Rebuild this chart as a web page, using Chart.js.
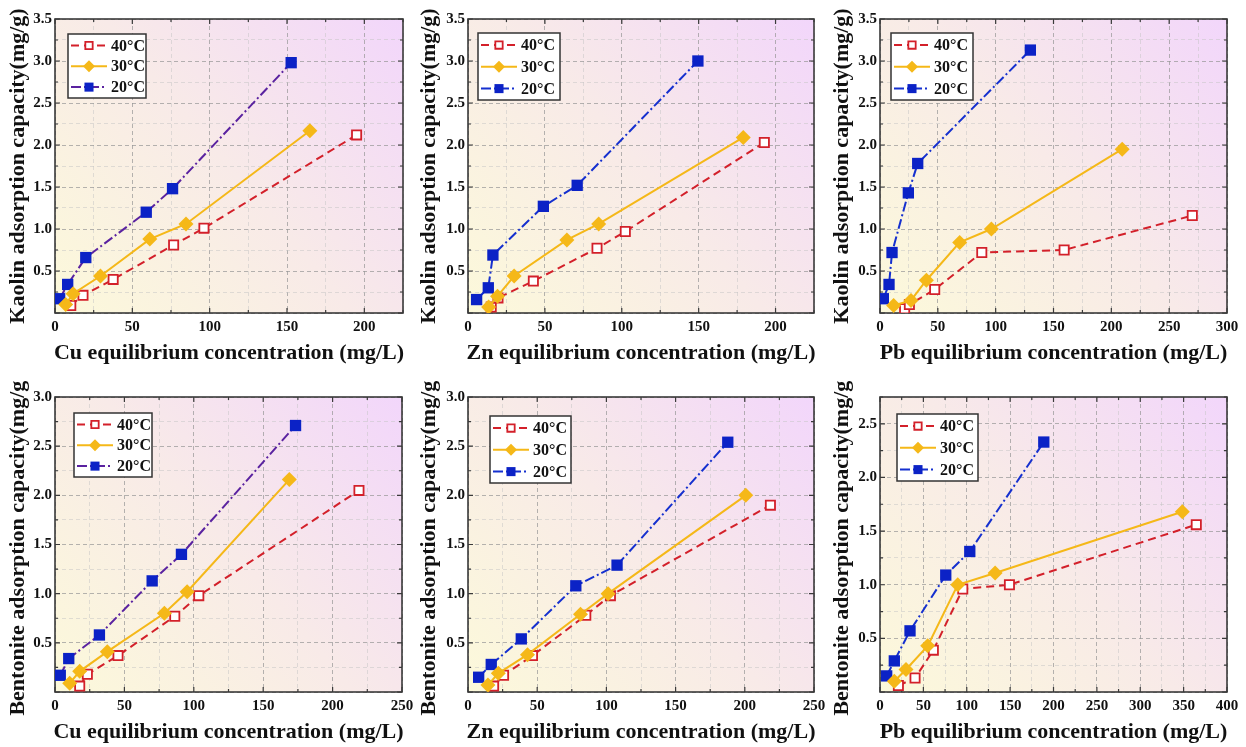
<!DOCTYPE html>
<html>
<head>
<meta charset="utf-8">
<script src="https://cdn.jsdelivr.net/npm/chart.js@4.4.1/dist/chart.umd.min.js"></script>
<style>
  body { margin: 0; background: #fff; width: 1246px; height: 747px; position: relative; overflow: hidden; }
  canvas { position: absolute; }
</style>
</head>
<body>
<canvas id="c1"></canvas>
<canvas id="c2"></canvas>
<canvas id="c3"></canvas>
<canvas id="c4"></canvas>
<canvas id="c5"></canvas>
<canvas id="c6"></canvas>
<script>
// series labels
const seriesLabels = ['40°C', '30°C', '20°C'];

// Kaolin - Cu  [equilibrium concentration, adsorption capacity]
const cuKaolin40 = [[10.2, 0.09], [18.1, 0.21], [37.6, 0.40], [76.7, 0.81], [96.3, 1.01], [195, 2.12]];
const cuKaolin30 = [[6.9, 0.10], [11.7, 0.23], [29.4, 0.44], [61.3, 0.88], [84.7, 1.06], [164.8, 2.17]];
const cuKaolin20 = [[3.0, 0.17], [8.2, 0.34], [19.9, 0.66], [59, 1.20], [76, 1.48], [152.7, 2.98]];
// Kaolin - Zn
const znKaolin40 = [[15.1, 0.07], [19.5, 0.18], [42.5, 0.38], [83.9, 0.77], [102.3, 0.97], [192.7, 2.03]];
const znKaolin30 = [[13.4, 0.07], [19.2, 0.20], [30, 0.44], [64.3, 0.87], [85, 1.06], [179, 2.09]];
const znKaolin20 = [[5.6, 0.16], [13.2, 0.30], [16.2, 0.69], [49, 1.27], [71, 1.52], [149.5, 3.0]];
// Kaolin - Pb
const pbKaolin40 = [[21.3, 0.05], [25.4, 0.10], [47.3, 0.28], [88, 0.72], [159.2, 0.75], [270, 1.16]];
const pbKaolin30 = [[11.8, 0.09], [26.8, 0.15], [40.1, 0.39], [68.9, 0.84], [96.3, 1.0], [209.4, 1.95]];
const pbKaolin20 = [[2.9, 0.17], [7.8, 0.34], [10.4, 0.72], [24.5, 1.43], [32.6, 1.78], [130, 3.13]];
// Bentonite - Cu
const cuBent40 = [[17.8, 0.06], [23.3, 0.18], [45.4, 0.37], [86.3, 0.77], [103.6, 0.98], [219, 2.05]];
const cuBent30 = [[10.6, 0.09], [17.8, 0.21], [37.7, 0.41], [78.8, 0.80], [95.2, 1.02], [168.8, 2.16]];
const cuBent20 = [[3.8, 0.17], [9.9, 0.34], [32, 0.58], [70, 1.13], [91.1, 1.40], [173.3, 2.71]];
// Bentonite - Zn
const znBent40 = [[18.5, 0.06], [25.7, 0.17], [46.6, 0.37], [85.1, 0.78], [102.9, 0.98], [218.5, 1.90]];
const znBent30 = [[14.4, 0.07], [21.9, 0.19], [43, 0.38], [81.3, 0.79], [101.2, 1.0], [200.7, 2.0]];
const znBent20 = [[7.7, 0.15], [16.8, 0.28], [38.5, 0.54], [77.9, 1.08], [107.7, 1.29], [187.7, 2.54]];
// Bentonite - Pb
const pbBent40 = [[21.2, 0.06], [40.4, 0.13], [61.5, 0.39], [95.4, 0.96], [149.2, 1.0], [364.6, 1.56]];
const pbBent30 = [[16.5, 0.10], [30, 0.21], [55, 0.43], [89.6, 1.0], [132.7, 1.11], [348.5, 1.68]];
const pbBent20 = [[7.7, 0.15], [16.5, 0.29], [34.6, 0.57], [75.8, 1.09], [103.5, 1.31], [188.8, 2.33]];

// axis ranges
const xMaxes = [225, 225, 300, 250, 250, 400];
const yMaxes = [3.5, 3.5, 3.5, 3.0, 3.0, 2.75];
const xTitles = ['Cu equilibrium concentration (mg/L)', 'Zn equilibrium concentration (mg/L)', 'Pb equilibrium concentration (mg/L)'];
const yTitles = ['Kaolin adsorption capacity(mg/g)', 'Bentonite adsorption capacity(mg/g)'];

const serif = "'Liberation Serif', 'Times New Roman', serif";
const red = '#d3202a';
const gold = '#f5b818';
const blue = '#0b22c6';

function pairs(arr) {
    return arr.map(p => ({ x: p[0], y: p[1] }));
}

function isMajor(v, step) {
    const r = v / step;
    return Math.abs(r - Math.round(r)) < 1e-6;
}

function makeSets(d40, d30, d20, line20) {
    return [
        {
            label: seriesLabels[0], data: pairs(d40), showLine: true,
            borderColor: red, borderWidth: 2, borderDash: [8, 5],
            pointStyle: 'rect', pointRadius: 6.5, pointBackgroundColor: '#ffffff',
            pointBorderColor: red, pointBorderWidth: 1.8, order: 2
        },
        {
            label: seriesLabels[1], data: pairs(d30), showLine: true,
            borderColor: gold, borderWidth: 2, borderDash: [],
            pointStyle: 'rectRot', pointRadius: 7.5, pointBackgroundColor: gold,
            pointBorderColor: gold, pointBorderWidth: 0, order: 0
        },
        {
            label: seriesLabels[2], data: pairs(d20), showLine: true,
            borderColor: line20, borderWidth: 2, borderDash: [10, 3, 2, 3],
            pointStyle: 'rect', pointRadius: 8, pointBackgroundColor: blue,
            pointBorderColor: blue, pointBorderWidth: 0, order: 1
        }
    ];
}

// plot background gradient
const bgPlugin = {
    id: 'plotBg',
    beforeDraw(chart) {
        const { ctx, chartArea: a } = chart;
        const g = ctx.createLinearGradient(a.left, a.bottom, a.right, a.top);
        g.addColorStop(0, '#fcf9da');
        g.addColorStop(0.5, '#f8eae8');
        g.addColorStop(1, '#f2d6fb');
        ctx.save();
        ctx.fillStyle = g;
        ctx.fillRect(a.left, a.top, a.width, a.height);
        ctx.restore();
    }
};

// box around the plot with inward ticks
const framePlugin = {
    id: 'frameTicks',
    beforeDatasetsDraw(chart) {
        const { ctx, chartArea: a, scales } = chart;
        ctx.save();
        ctx.strokeStyle = '#3a3a3a';
        ctx.lineWidth = 1.2;
        scales.y.ticks.forEach(t => {
            const py = scales.y.getPixelForValue(t.value);
            const len = isMajor(t.value, 0.5) ? 5 : 3;
            ctx.beginPath();
            ctx.moveTo(a.left, py); ctx.lineTo(a.left + len, py);
            ctx.moveTo(a.right, py); ctx.lineTo(a.right - len, py);
            ctx.stroke();
        });
        scales.x.ticks.forEach(t => {
            const px = scales.x.getPixelForValue(t.value);
            const len = isMajor(t.value, 50) ? 5 : 3;
            ctx.beginPath();
            ctx.moveTo(px, a.bottom); ctx.lineTo(px, a.bottom - len);
            ctx.moveTo(px, a.top); ctx.lineTo(px, a.top + len);
            ctx.stroke();
        });
        ctx.lineWidth = 1.6;
        ctx.strokeRect(a.left, a.top, a.width, a.height);
        ctx.restore();
    }
};

function drawMarker(ctx, ds, x, y, k) {
    const r = ds.pointRadius * k;
    ctx.beginPath();
    if (ds.pointStyle === 'rectRot') {
        ctx.moveTo(x, y - r); ctx.lineTo(x + r, y); ctx.lineTo(x, y + r); ctx.lineTo(x - r, y);
        ctx.closePath();
    } else {
        const s = r * Math.SQRT1_2;
        ctx.rect(x - s, y - s, 2 * s, 2 * s);
    }
    ctx.fillStyle = ds.pointBackgroundColor;
    ctx.fill();
    if (ds.pointBorderWidth > 0) {
        ctx.lineWidth = ds.pointBorderWidth;
        ctx.strokeStyle = ds.pointBorderColor;
        ctx.stroke();
    }
}

// legend box inside the plot
const legendPlugin = {
    id: 'boxLegend',
    afterDatasetsDraw(chart, args, opts) {
        const { ctx, chartArea: a } = chart;
        const x0 = a.left + opts.dx, y0 = a.top + opts.dy;
        ctx.save();
        ctx.fillStyle = '#ffffff';
        ctx.fillRect(x0, y0, opts.w, opts.h);
        ctx.strokeStyle = '#333333';
        ctx.lineWidth = 1.5;
        ctx.strokeRect(x0, y0, opts.w, opts.h);
        chart.data.datasets.forEach((ds, i) => {
            const cy = y0 + opts.h * (0.18 + i * 0.325);
            ctx.setLineDash(ds.borderDash);
            ctx.strokeStyle = ds.borderColor;
            ctx.lineWidth = 2;
            ctx.beginPath();
            ctx.moveTo(x0 + 3, cy); ctx.lineTo(x0 + 39, cy);
            ctx.stroke();
            ctx.setLineDash([]);
            drawMarker(ctx, ds, x0 + 21, cy, 0.8);
            ctx.fillStyle = '#111';
            ctx.font = 'bold 16px ' + serif;
            ctx.textAlign = 'left';
            ctx.textBaseline = 'middle';
            ctx.fillText(ds.label, x0 + 43, cy + 1);
        });
        ctx.restore();
    }
};

// axis titles (drawn freely, may overflow like the original)
const titlesPlugin = {
    id: 'axisTitles',
    afterDraw(chart, args, opts) {
        const { ctx, chartArea: a } = chart;
        ctx.save();
        ctx.fillStyle = '#111';
        ctx.font = 'bold 22px ' + serif;
        ctx.textAlign = 'center';
        ctx.textBaseline = 'middle';
        ctx.fillText(opts.xText, (a.left + a.right) / 2, opts.xPos);
        ctx.translate(opts.yPos, (a.top + a.bottom) / 2);
        ctx.rotate(-Math.PI / 2);
        ctx.fillText(opts.yText, 0, 0);
        ctx.restore();
    }
};

function buildChart(id, p) {
    const canvas = document.getElementById(id);
    const [left, top, w, h] = p.box;
    canvas.width = w;
    canvas.height = h;
    canvas.style.left = left + 'px';
    canvas.style.top = top + 'px';
    canvas.style.width = w + 'px';
    canvas.style.height = h + 'px';

    const tickFont = { family: serif, size: 15, weight: 'bold' };
    const gridColor = step => c => (c.tick && isMajor(c.tick.value, step))
        ? 'rgba(150,150,150,0.7)' : 'rgba(195,195,195,0.5)';

    new Chart(canvas, {
        type: 'scatter',
        data: { datasets: p.sets },
        options: {
            responsive: false,
            animation: false,
            layout: { padding: { left: 0, top: p.plot[1] - top, right: left + w - p.plot[2], bottom: 0 } },
            scales: {
                x: {
                    type: 'linear', min: 0, max: p.xMax,
                    ticks: {
                        stepSize: 25, autoSkip: false, maxRotation: 0, padding: 5, color: '#111', font: tickFont,
                        callback: v => isMajor(v, 50) ? String(v) : ''
                    },
                    grid: { color: gridColor(50), lineWidth: 1, drawTicks: false },
                    border: { display: false, dash: [4, 3] },
                    afterFit: s => { s.height = top + h - p.plot[3]; s.paddingLeft = 0; s.paddingRight = 0; }
                },
                y: {
                    type: 'linear', min: 0, max: p.yMax,
                    ticks: {
                        stepSize: 0.25, autoSkip: false, padding: 3, color: '#111', font: tickFont,
                        callback: v => (v > 0 && isMajor(v, 0.5)) ? v.toFixed(1) : ''
                    },
                    grid: { color: gridColor(0.5), lineWidth: 1, drawTicks: false },
                    border: { display: false, dash: [4, 3] },
                    afterFit: s => { s.width = p.plot[0] - left; s.paddingTop = 0; s.paddingBottom = 0; }
                }
            },
            plugins: {
                legend: { display: false },
                tooltip: { enabled: false },
                boxLegend: p.legend,
                axisTitles: { xText: p.xTitle, yText: p.yTitle, xPos: p.xTitleY - top, yPos: p.yTitleX - left }
            }
        },
        plugins: [bgPlugin, framePlugin, legendPlugin, titlesPlugin]
    });
}

const purple = '#5a22a0';
const blueLine = '#1530cf';

buildChart('c1', {
    box: [0, 0, 420, 370], plot: [55, 19, 403, 313], xMax: xMaxes[0], yMax: yMaxes[0],
    sets: makeSets(cuKaolin40, cuKaolin30, cuKaolin20, purple),
    legend: { dx: 13, dy: 15, w: 78, h: 64 },
    xTitle: xTitles[0], yTitle: yTitles[0], xTitleY: 353, yTitleX: 18
});
buildChart('c2', {
    box: [410, 0, 420, 370], plot: [468, 19, 814, 313], xMax: xMaxes[1], yMax: yMaxes[1],
    sets: makeSets(znKaolin40, znKaolin30, znKaolin20, blueLine),
    legend: { dx: 10, dy: 14, w: 82, h: 67 },
    xTitle: xTitles[1], yTitle: yTitles[0], xTitleY: 353, yTitleX: 429.5
});
buildChart('c3', {
    box: [822, 0, 424, 370], plot: [880, 19, 1227, 313], xMax: xMaxes[2], yMax: yMaxes[2],
    sets: makeSets(pbKaolin40, pbKaolin30, pbKaolin20, blueLine),
    legend: { dx: 11, dy: 14, w: 82, h: 67 },
    xTitle: xTitles[2], yTitle: yTitles[0], xTitleY: 353, yTitleX: 842.5
});
buildChart('c4', {
    box: [0, 380, 420, 367], plot: [55, 397, 402, 692], xMax: xMaxes[3], yMax: yMaxes[3],
    sets: makeSets(cuBent40, cuBent30, cuBent20, purple),
    legend: { dx: 19, dy: 16, w: 78, h: 64 },
    xTitle: xTitles[0], yTitle: yTitles[1], xTitleY: 732, yTitleX: 18
});
buildChart('c5', {
    box: [410, 380, 420, 367], plot: [468, 397, 814, 692], xMax: xMaxes[4], yMax: yMaxes[4],
    sets: makeSets(znBent40, znBent30, znBent20, blueLine),
    legend: { dx: 22, dy: 19, w: 81, h: 67 },
    xTitle: xTitles[1], yTitle: yTitles[1], xTitleY: 732, yTitleX: 429.5
});
buildChart('c6', {
    box: [822, 380, 424, 367], plot: [880, 397, 1227, 692], xMax: xMaxes[5], yMax: yMaxes[5],
    sets: makeSets(pbBent40, pbBent30, pbBent20, blueLine),
    legend: { dx: 17, dy: 17, w: 81, h: 67 },
    xTitle: xTitles[2], yTitle: yTitles[1], xTitleY: 732, yTitleX: 842
});
</script>
</body>
</html>
